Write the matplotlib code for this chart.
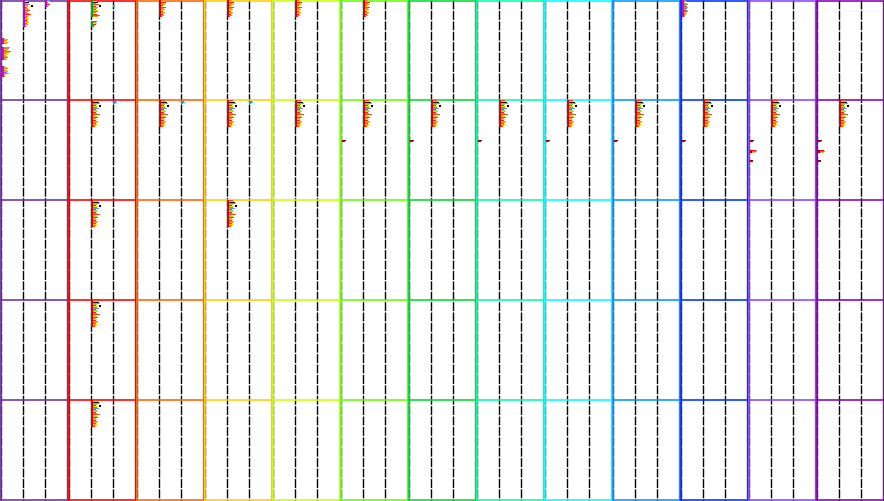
import matplotlib
matplotlib.use("Agg")
import matplotlib.pyplot as plt

# ---------------- data ----------------
n_cols = 13
n_rows = 5
col_colors = ["#7030A0", "#FF0000", "#FF6600", "#FFCC00", "#CCFF00", "#66FF00",
              "#00DD33", "#00FFAA", "#00FFFF", "#0099FF", "#0033FF", "#8844FF", "#8800BB"]

# mark clusters: column, row, slot (0 = left edge, 1 = first third, 2 = second third),
# vertical offset inside the cell (px) and template kind
cl_col  = [0, 0, 0, 1, 1, 2, 3, 4, 5, 10,
           1, 2, 3, 4, 5, 6, 7, 8, 9, 10, 11, 12,
           1, 2, 3,
           5, 6, 7, 8, 9, 10,
           11, 12,
           1, 3, 1, 1]
cl_row  = [0, 0, 0, 0, 0, 0, 0, 0, 0, 0,
           1, 1, 1, 1, 1, 1, 1, 1, 1, 1, 1, 1,
           1, 1, 1,
           1, 1, 1, 1, 1, 1,
           1, 1,
           2, 2, 3, 4]
cl_slot = [0, 1, 2, 1, 2, 1, 1, 1, 1, 0,
           1, 1, 1, 1, 1, 1, 1, 1, 1, 1, 1, 1,
           2, 2, 2,
           0, 0, 0, 0, 0, 0,
           0, 0,
           1, 1, 1, 1]
cl_y0   = [38, 0, 0, 0, 5, 0, 0, 0, 0, 0,
           0, 0, 0, 0, 0, 0, 0, 0, 0, 0, 0, 0,
           1, 1, 1,
           40, 40, 40, 40, 40, 40,
           40, 40,
           0, 0, 0, 0]
cl_kind = ["F", "M", "S", "G", "C", "B", "B", "B", "B", "P",
           "A", "A", "A", "A", "A", "A", "A", "A", "A", "A", "A", "A",
           "T", "T", "T",
           "D", "D", "D", "D", "D", "D",
           "E", "E",
           "A", "A", "A", "A"]

# templates: per pixel-row bar widths, base strip colour, accent colours
A_widths = [6, 7, 8, 9, 6, 5, 7, 6, 8, 5, 6, 7, 5, 6, 9, 5, 6, 7, 5, 6, 5, 7, 6, 5, 6, 5, 4]
A_accent = ["#FF4500", "#FFD700", "#000000", "#FF8C00", "#9ACD32", "#FF2200", "#FFD700",
            "#FF6600", "#6495ED", "#FF4500", "#9ACD32", "#FFC000", "#FF2200", "#FF8C00",
            "#FF4500", "#FFD700", "#9ACD32", "#FF4500", "#FF8C00", "#FFD700", "#FF2200",
            "#9ACD32", "#FF8C00", "#FF4500", "#FFC000", "#FF8C00", "#FF4500"]
B_widths = [5, 6, 7, 5, 6, 4, 5, 7, 5, 6, 5, 4, 6, 5, 4, 5, 3]
B_accent = ["#FF8C00", "#FFD700", "#FF2200", "#9ACD32", "#FF8C00", "#FF4500", "#FFD700",
            "#FF4500", "#FF8C00", "#9ACD32", "#FFD700", "#FF4500", "#FF8C00", "#FFD700",
            "#FF2200", "#FF8C00", "#FF4500"]
M_widths = [4, 5, 6, 5, 7, 5, 6, 4, 5, 6, 7, 5, 4, 6, 8, 6, 5, 4, 6, 5, 4, 5, 6, 4, 5, 4, 3]
M_accent = ["#808080", "#FFD700", "#000000", "#FF8C00", "#DA70D6", "#FF8C00", "#FFD700",
            "#FF4500", "#FF8C00", "#9ACD32", "#FF4500", "#FFD700", "#FF4500", "#FF8C00",
            "#FF2200", "#FFD700", "#FF8C00", "#FF4500", "#FFD700", "#FF8C00", "#FF2200",
            "#FF8C00", "#FFD700", "#FF4500", "#FF8C00", "#FFD700", "#FF4500"]
G_widths = [5, 6, 7, 5, 8, 6, 5, 7, 6, 5, 6, 7, 5, 4, 6, 9, 7, 0, 0, 0, 0, 6, 5, 6, 5, 4, 3]
G_accent = ["#FF2200", "#FFD700", "#000000", "#FF8C00", "#FF4500", "#FFD700", "#FF2200",
            "#FF8C00", "#9ACD32", "#FF4500", "#FFD700", "#FF4500", "#FF8C00", "#FFD700",
            "#FF2200", "#FF4500", "#FF8C00", "#FFFFFF", "#FFFFFF", "#FFFFFF", "#FFFFFF",
            "#FF4500", "#FF8C00", "#FFD700", "#FF2200", "#FF8C00", "#FF4500"]
F_widths = [3, 6, 5, 4, 6, 5, 0, 0, 0, 8, 7, 6, 5, 9, 7, 5, 6, 4, 5, 6, 4, 5, 0, 0, 0, 0,
            0, 0, 3, 5, 6, 4, 5, 6, 5, 7, 4, 3, 3]
F_accent = ["#9ACD32", "#FFA500", "#FF8C00", "#FFD700", "#FFA500", "#DAA520", "#FFFFFF",
            "#FFFFFF", "#FFFFFF", "#FF8C00", "#CD853F", "#FFA500", "#FF8C00", "#D2691E",
            "#FFA500", "#FF8C00", "#FFD700", "#FFA500", "#DAA520", "#9370DB", "#FFA500",
            "#FF8C00", "#FFFFFF", "#FFFFFF", "#FFFFFF", "#FFFFFF", "#FFFFFF", "#FFFFFF",
            "#9ACD32", "#FFA500", "#FF8C00", "#FFD700", "#DAA520", "#FFA500", "#9370DB",
            "#FF8C00", "#FFA500", "#FFD700", "#FF8C00"]
P_widths = [4, 5, 3, 5, 6, 4, 5, 6, 5, 4, 5, 6, 4, 5, 4, 3, 3]
P_accent = ["#808080", "#A0A0A0", "#FFD700", "#FF8C00", "#808080", "#FFA500", "#A0522D",
            "#FF8C00", "#808080", "#FFA500", "#A0522D", "#808080", "#FFA500", "#A0A0A0",
            "#FF8C00", "#808080", "#A0A0A0"]
S_widths = [4, 5, 3, 4, 5, 4, 3]
S_accent = ["#6495ED", "#FFD700", "#FF8C00", "#FFA500", "#FF4500", "#FFA500", "#FF8C00"]
C_widths = [2, 2]
C_accent = ["#00FFFF", "#00CED1"]
T_widths = [3, 4, 2]
T_accent = ["#4169E1", "#00BFFF", "#FF0000"]
D_widths = [4, 3]
D_accent = ["#8B0000", "#FF0000"]
E_widths = [4, 3, 0, 0, 0, 0, 0, 0, 0, 0, 6, 7, 6, 0, 0, 0, 0, 0, 0, 0, 3, 3]
E_accent = ["#8B0000", "#FF0000", "#FFFFFF", "#FFFFFF", "#FFFFFF", "#FFFFFF", "#FFFFFF",
            "#FFFFFF", "#FFFFFF", "#FFFFFF", "#FF0000", "#FF6347", "#FFA07A", "#FFFFFF",
            "#FFFFFF", "#FFFFFF", "#FFFFFF", "#FFFFFF", "#FFFFFF", "#FFFFFF", "#8B0000",
            "#FF0000"]

templates = {
    "A": (A_widths, "#DD0000", A_accent),
    "B": (B_widths, "#DD0000", B_accent),
    "M": (M_widths, "#CC00CC", M_accent),
    "G": (G_widths, "#00AA00", G_accent),
    "F": (F_widths, "#DD00DD", F_accent),
    "P": (P_widths, "#DD00DD", P_accent),
    "S": (S_widths, "#CC00CC", S_accent),
    "C": (C_widths, "#00CCCC", C_accent),
    "T": (T_widths, "#1E90FF", T_accent),
    "D": (D_widths, "#AA0000", D_accent),
    "E": (E_widths, "#AA0000", E_accent),
}

# ---------------- drawing ----------------
W, H = 884, 501
cell_w, cell_h = 68, 100
fig = plt.figure(figsize=(W / 100, H / 100), dpi=100)
ax = fig.add_axes([0, 0, 1, 1])
ax.set_xlim(0, W)
ax.set_ylim(H, 0)
ax.axis("off")

px = 0.72  # points per pixel

# dashed guide lines
for c in range(n_cols):
    x0 = c * cell_w
    for off in (1.4, cell_w / 3, 2 * cell_w / 3):
        ax.plot([x0 + off, x0 + off], [0, H], color="black", lw=1.4 * px,
                linestyle=(0, (9 / 1.4, 1.4 / 1.4)), zorder=1)

# cell borders
for c in range(n_cols):
    x0 = c * cell_w
    col = col_colors[c]
    for r in range(n_rows + 1):
        y = r * cell_h
        if r == 0:
            y = 0.8
        if r == n_rows:
            y = 499.5
        ax.plot([x0, x0 + cell_w], [y, y], color=col, lw=1.6 * px,
                solid_capstyle="butt", zorder=3)
    ax.plot([x0 + 0.8, x0 + 0.8], [0, H], color=col, lw=1.8 * px,
            solid_capstyle="butt", zorder=3)
    ax.plot([x0 + cell_w - 0.6, x0 + cell_w - 0.6], [0, H], color=col, lw=1.4 * px,
            solid_capstyle="butt", zorder=3)

# mark clusters
for c, r, s, y0, k in zip(cl_col, cl_row, cl_slot, cl_y0, cl_kind):
    widths, base, accents = templates[k]
    xs = c * cell_w + (2 if s == 0 else s * cell_w / 3)
    for i, (w, a) in enumerate(zip(widths, accents)):
        if w == 0:
            continue
        y = r * cell_h + y0 + i + 0.5
        bw = min(2, w)
        ax.barh(y, bw, left=xs, height=1, color=base, linewidth=0, zorder=4)
        if w > bw:
            ax.barh(y, w - bw, left=xs + bw, height=1, color=a, linewidth=0, zorder=4)
    if k in ("A", "M", "G"):
        ax.barh(r * cell_h + y0 + 5.5, 2, left=xs + 8, height=2, color="black",
                linewidth=0, zorder=4)

fig.savefig("out.png", dpi=100)
